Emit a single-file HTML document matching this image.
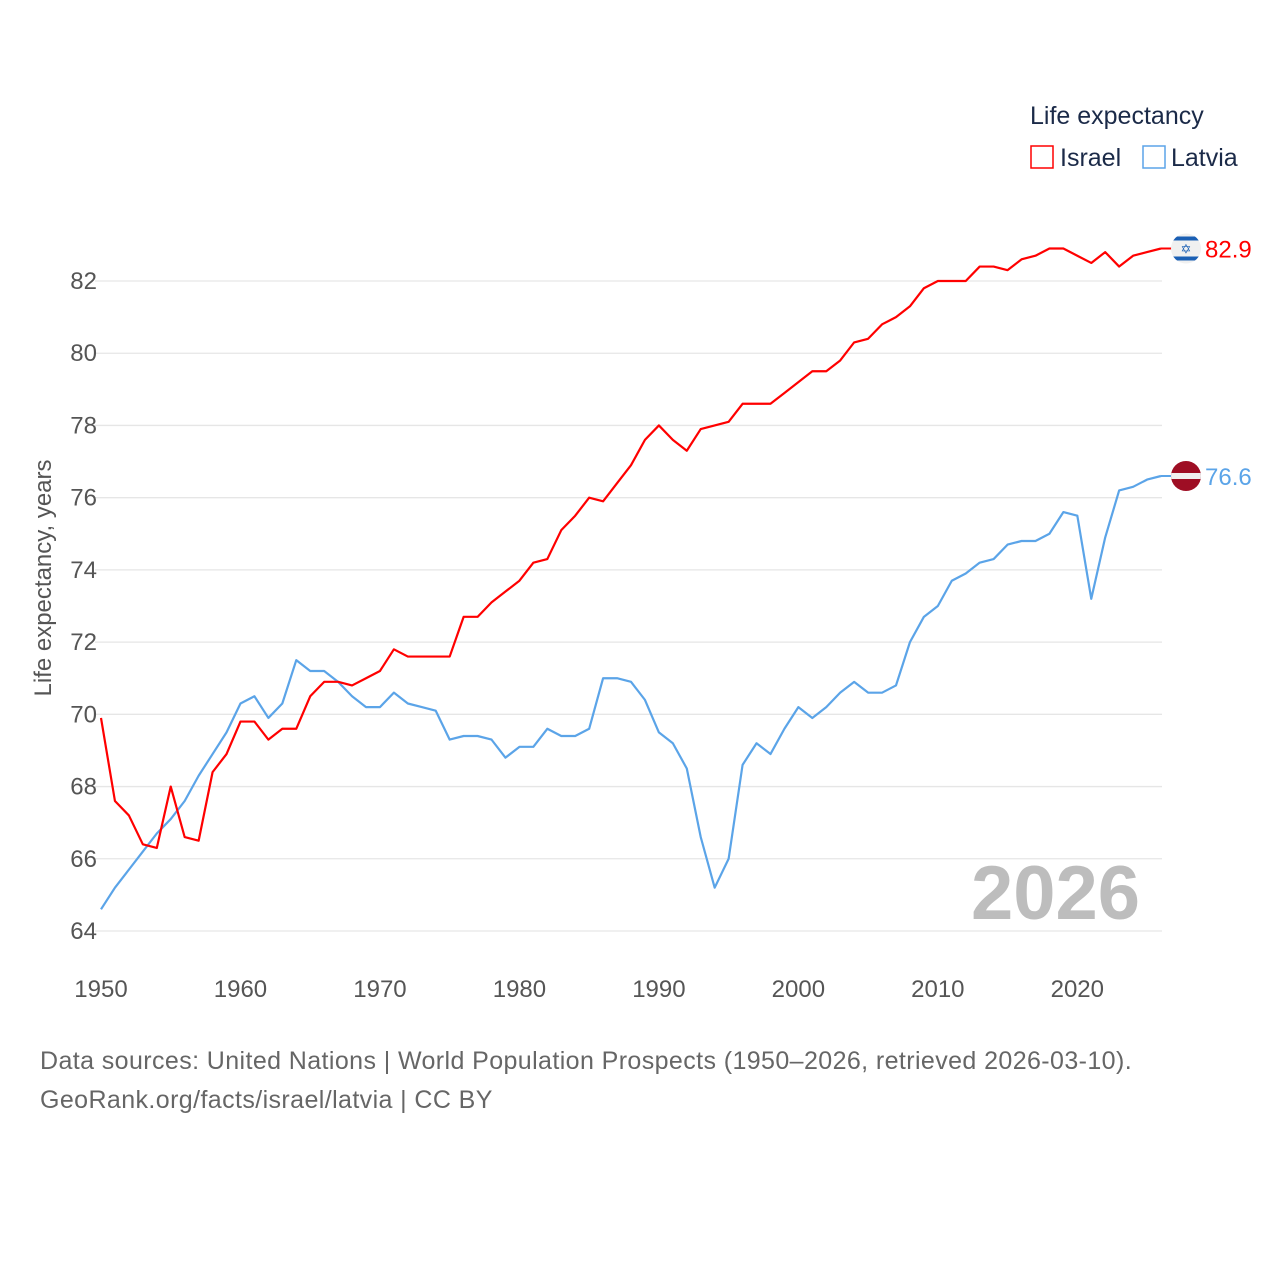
<!DOCTYPE html>
<html><head><meta charset="utf-8"><style>
body{margin:0;background:#fff;font-family:"Liberation Sans",sans-serif}
svg text{font-family:"Liberation Sans",sans-serif}
</style></head><body>
<svg width="1280" height="1280" viewBox="0 0 1280 1280">
<g id="grid"></g>
<g id="yt"></g>
<g id="xt"></g>
<text x="971" y="919" font-size="76" font-weight="bold" fill="#bdbdbd">2026</text>
<text transform="translate(51,578) rotate(-90)" text-anchor="middle" font-size="24" fill="#555">Life expectancy, years</text>
<g id="lines"></g>
<text x="1030" y="124" font-size="25" fill="#1b2a48">Life expectancy</text>
<g><rect x="1031" y="146" width="22" height="22" fill="none" stroke="#ff0000" stroke-width="1.5"/><text x="1060" y="166" font-size="25" fill="#1b2a48">Israel</text></g>
<g><rect x="1143" y="146" width="22" height="22" fill="none" stroke="#5ba4e8" stroke-width="1.5"/><text x="1171" y="166" font-size="25" fill="#1b2a48">Latvia</text></g>
<g id="ends"></g>
<text x="40" y="1069" font-size="25" letter-spacing="0.4" fill="#666">Data sources: United Nations | World Population Prospects (1950–2026, retrieved 2026-03-10).</text>
<text x="40" y="1108" font-size="25" letter-spacing="0.4" fill="#666">GeoRank.org/facts/israel/latvia | CC BY</text>
</svg>
<script>
const years=[];for(let y=1950;y<=2026;y++)years.push(y);
const israel=[69.9,67.6,67.2,66.4,66.3,68.0,66.6,66.5,68.4,68.9,69.8,69.8,69.3,69.6,69.6,70.5,70.9,70.9,70.8,71.0,71.2,71.8,71.6,71.6,71.6,71.6,72.7,72.7,73.1,73.4,73.7,74.2,74.3,75.1,75.5,76.0,75.9,76.4,76.9,77.6,78.0,77.6,77.3,77.9,78.0,78.1,78.6,78.6,78.6,78.9,79.2,79.5,79.5,79.8,80.3,80.4,80.8,81.0,81.3,81.8,82.0,82.0,82.0,82.4,82.4,82.3,82.6,82.7,82.9,82.9,82.7,82.5,82.8,82.4,82.7,82.8,82.9];
const latvia=[64.6,65.2,65.7,66.2,66.7,67.1,67.6,68.3,68.9,69.5,70.3,70.5,69.9,70.3,71.5,71.2,71.2,70.9,70.5,70.2,70.2,70.6,70.3,70.2,70.1,69.3,69.4,69.4,69.3,68.8,69.1,69.1,69.6,69.4,69.4,69.6,71.0,71.0,70.9,70.4,69.5,69.2,68.5,66.6,65.2,66.0,68.6,69.2,68.9,69.6,70.2,69.9,70.2,70.6,70.9,70.6,70.6,70.8,72.0,72.7,73.0,73.7,73.9,74.2,74.3,74.7,74.8,74.8,75.0,75.6,75.5,73.2,74.9,76.2,76.3,76.5,76.6];
const yTicks=[64,66,68,70,72,74,76,78,80,82];
const xTicks=[1950,1960,1970,1980,1990,2000,2010,2020];
const NS='http://www.w3.org/2000/svg';
const X=y=>101+(y-1950)*(1161-101)/76;
const Y=v=>931-(v-64)*(931-281)/18;
function mk(t,a,p){const e=document.createElementNS(NS,t);for(const k in a)e.setAttribute(k,a[k]);p.appendChild(e);return e;}
const grid=document.getElementById('grid'),yt=document.getElementById('yt'),xt=document.getElementById('xt');
yTicks.forEach(v=>{
 const l=mk('line',{x1:95,x2:1162,y1:Y(v),y2:Y(v),stroke:'#e6e6e6','stroke-width':1.3},grid);
 
 
 const t=mk('text',{x:97,y:Y(v)+8,'text-anchor':'end','font-size':24,fill:'#555'},yt);
 t.textContent=v;
 
 
});
xTicks.forEach(v=>{
 const t=mk('text',{x:X(v),y:997,'text-anchor':'middle','font-size':24,fill:'#555'},xt);
 t.textContent=v;
 
 
});
const lines=document.getElementById('lines');
function series(d,c,name){
 const p=mk('polyline',{points:d.map((v,i)=>X(years[i])+','+Y(v)).join(' '),fill:'none',stroke:c,'stroke-width':2.2,'stroke-linejoin':'round'},lines);
 
 
}
series(latvia,'#5ba4e8','latvia-line');
series(israel,'#ff0000','israel-line');
const ends=document.getElementById('ends');
function endLabel(d,c,name,flag){
 const v=d[d.length-1],x=X(years[years.length-1]),y=Y(v);
 mk('line',{x1:x,x2:x+12,y1:y,y2:y,stroke:c,'stroke-width':2},ends);
 const g=mk('g',{},ends);
 
 
 const cx=x+25;
 mk('clipPath',{id:'cp'+name},g).appendChild(document.createElementNS(NS,'circle')).setAttribute('r',15);
 document.querySelector('#cp'+name+' circle').setAttribute('cx',cx);
 document.querySelector('#cp'+name+' circle').setAttribute('cy',y);
 const gg=mk('g',{'clip-path':'url(#cp'+name+')'},g);
 if(flag==='il'){
  mk('rect',{x:cx-15,y:y-15,width:30,height:30,fill:'#f0f0f0'},gg);
  mk('rect',{x:cx-15,y:y-12,width:30,height:4,fill:'#1a5fb4'},gg);
  mk('rect',{x:cx-15,y:y+8,width:30,height:4,fill:'#1a5fb4'},gg);
  const s=mk('text',{x:cx,y:y+5,'text-anchor':'middle','font-size':13,fill:'#1a5fb4'},gg);s.textContent='✡';
 }else{
  mk('rect',{x:cx-15,y:y-15,width:30,height:30,fill:'#9e0e24'},gg);
  mk('rect',{x:cx-15,y:y-3,width:30,height:6,fill:'#f0f0f0'},gg);
 }
 const t=mk('text',{x:x+44,y:y+9,'font-size':24,fill:c},ends);
 t.textContent=v.toFixed(1);
 
 
}
endLabel(israel,'#ff0000','israel','il');
endLabel(latvia,'#5ba4e8','latvia','lv');
</script>
</body></html>
